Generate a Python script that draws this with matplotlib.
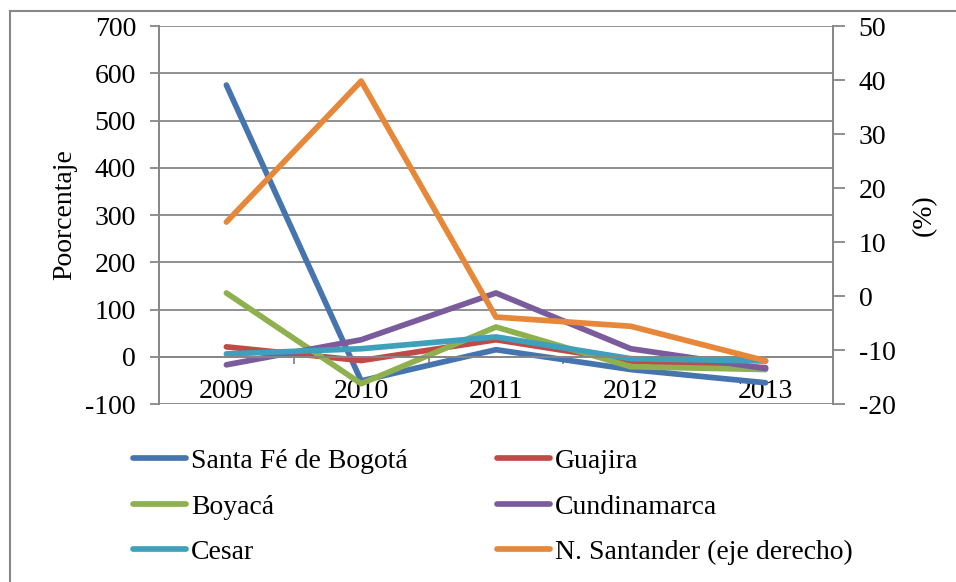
import matplotlib
matplotlib.use("Agg")
import matplotlib.pyplot as plt
from matplotlib.lines import Line2D
import numpy as np

plt.rcParams['font.family'] = ['Liberation Serif', 'DejaVu Serif']
plt.rcParams['axes.unicode_minus'] = False

years = ["2009", "2010", "2011", "2012", "2013"]
bogota = [575, -51, 15, -27, -55]
guajira = [21, -8, 36, -9, -23]
boyaca = [135, -57, 63, -21, -27]
cundinamarca = [-17, 36, 135, 17, -25]
cesar = [6, 17, 42, -4, -9]
santander = [13.7, 39.8, -3.9, -5.6, -12.0]

left_series = [
    ("Santa Fé de Bogotá", bogota, "#4674AE"),
    ("Guajira", guajira, "#BE4B48"),
    ("Boyacá", boyaca, "#8FB04E"),
    ("Cundinamarca", cundinamarca, "#7A5C9C"),
    ("Cesar", cesar, "#3FA0BC"),
]
right_series = ("N. Santander (eje derecho)", santander, "#E6873A")

FS = 20
fig = plt.figure(figsize=(9.56, 5.82), dpi=100)
ax = fig.add_axes([0.1663, 0.3058, 0.705, 0.6495])
ax2 = ax.twinx()

x = np.arange(len(years))
handles = {}
for name, vals, col in left_series:
    h, = ax.plot(x, vals, color=col, lw=4.1, solid_capstyle='round', solid_joinstyle='round', label=name)
    handles[name] = h
name, vals, col = right_series
h, = ax2.plot(x, vals, color=col, lw=4.1, solid_capstyle='round', solid_joinstyle='round', label=name)
handles[name] = h

gray = "#878787"
ax.set_xlim(-0.5, 4.5)
ax.set_ylim(-100, 700)
ax.set_yticks(np.arange(-100, 701, 100))
ax2.set_ylim(-20, 50)
ax2.set_yticks(np.arange(-20, 51, 10))
ax.grid(axis='y', color=gray, lw=1.3)
ax.set_axisbelow(True)

ax.spines['top'].set_visible(False)
ax2.spines['top'].set_visible(False)
ax.spines['bottom'].set_position(('data', 0))
for a in (ax, ax2):
    for s in ['left', 'right', 'bottom']:
        a.spines[s].set_color(gray)
        a.spines[s].set_linewidth(1.3)
ax2.spines['bottom'].set_visible(False)

ax.set_xticks(x)
ax.set_xticklabels(years)
ax.set_xticks(np.arange(-0.5, 4.6, 1.0), minor=True)
ax.tick_params(axis='x', which='major', length=0, pad=16, labelsize=FS)
ax.tick_params(axis='x', which='minor', length=5, color=gray, width=1.3, direction='out')
ax.tick_params(axis='y', labelsize=FS, length=6.5, color=gray, width=1.3, pad=10)
ax2.tick_params(axis='y', labelsize=FS, length=8.5, color=gray, width=1.3, pad=10)

ax.set_ylabel("Poorcentaje", fontsize=FS, labelpad=6)
ax2.set_ylabel("(%)", fontsize=FS, labelpad=12)

order = ["Santa Fé de Bogotá", "Boyacá", "Cesar", "Guajira", "Cundinamarca",
         "N. Santander (eje derecho)"]
fig.legend(handles=[handles[n] for n in order], loc='upper left', bbox_to_anchor=(0.139, 0.229), ncol=2,
           frameon=False, fontsize=FS, handlelength=1.9, handletextpad=0.2,
           columnspacing=3.2, labelspacing=0.72, borderaxespad=0, borderpad=0)

# outer chart border (only left and top edges are visible in the crop)
bx = 9.5 / 956
by = 1 - 10.5 / 582
fig.add_artist(Line2D([bx, bx], [0, by], transform=fig.transFigure, color="#888888", lw=1.5))
fig.add_artist(Line2D([bx, 1], [by, by], transform=fig.transFigure, color="#888888", lw=1.5))

fig.savefig("out.png", dpi=100)
